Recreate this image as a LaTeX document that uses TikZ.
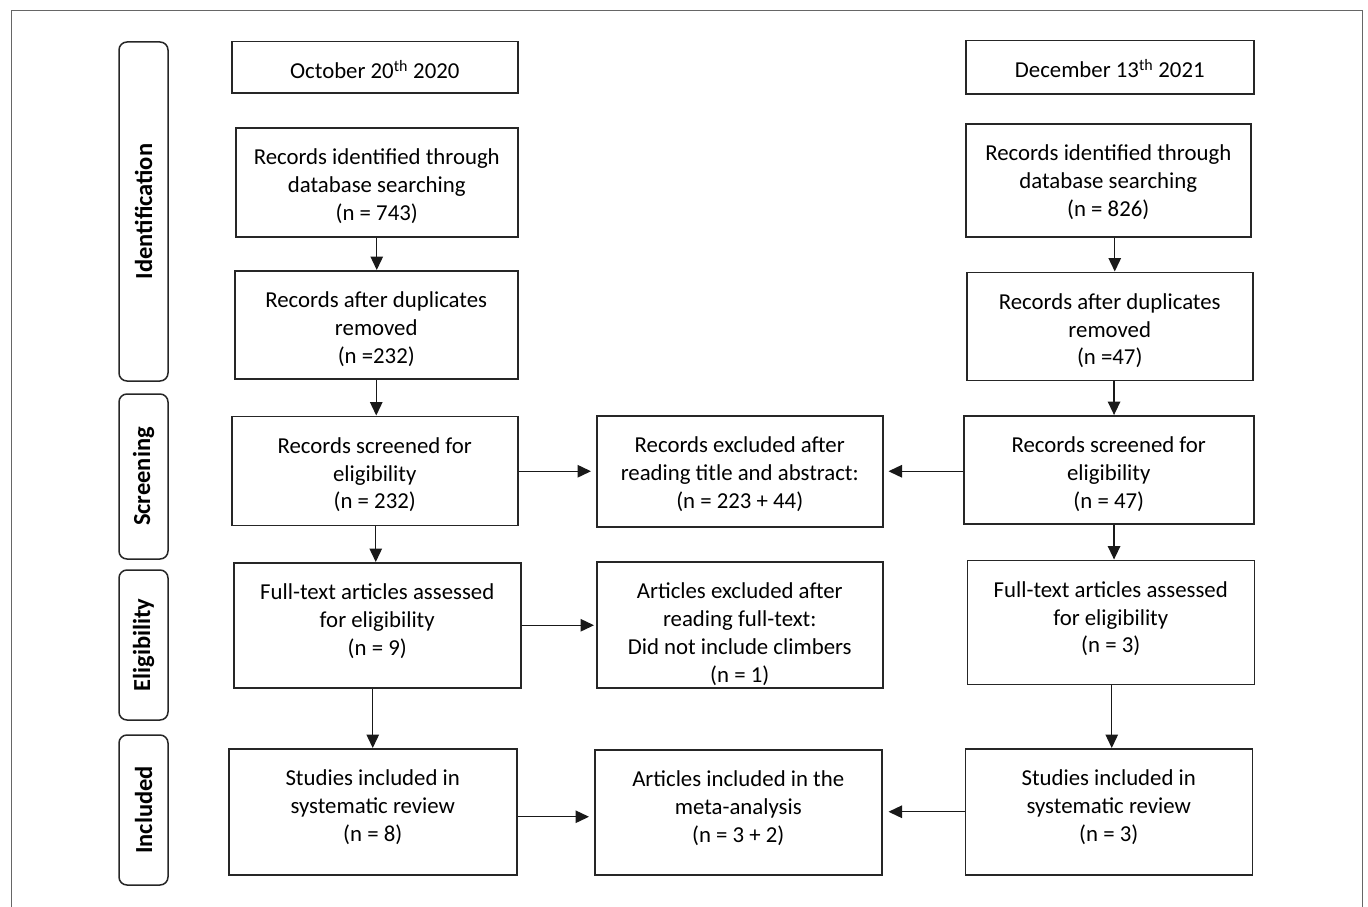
\documentclass[tikz,border=0pt]{standalone}
\usepackage{fontspec}
\setmainfont{Carlito}
\usetikzlibrary{arrows.meta}
\newcommand\bxt[3]{\parbox[c][#2][t]{#1}{\centering\rule{0pt}{37pt}#3}}
\tikzset{
  box/.style={draw=black!85, line width=1.5pt, inner sep=0pt, anchor=north west,
    font=\fontsize{22.8}{27.8}\selectfont},
  side/.style={draw=black!85, line width=1.5pt, rounded corners=8pt, inner sep=0pt,
    rotate=90, font=\fontsize{24.5}{28}\selectfont\bfseries, minimum height=49pt},
  arr/.style={draw=black!90, line width=1.4pt, -{Triangle[length=13.5pt,width=12.5pt]}},
}
\begin{document}
\begin{tikzpicture}[x=1pt,y=-1pt]
\useasboundingbox (0,0) rectangle (1368,907);
\draw[black!60, line width=1pt] (11,907) -- (11,11) -- (1362.5,11) -- (1362.5,907);

% side labels
\node[side, minimum width=339pt] (idn) at (143.5,211.5) {Identification};
\node[side, minimum width=165pt] (scr) at (143.5,476.5) {Screening};
\node[side, minimum width=150pt] (elg) at (143.5,645) {Eligibility};
\node[side, minimum width=150pt] (inc) at (143.5,810) {Included};

% left column
\node[box] (dl) at (231,41) {\bxt{286pt}{51pt}{October 20\textsuperscript{th} 2020}};
\node[box] (rl1) at (235,127) {\bxt{282pt}{109pt}{Records identified through\\database searching\\(n = 743)}};
\node[box] (dl1) at (234,270) {\bxt{283pt}{108pt}{Records after duplicates\\removed\\(n =232)}};
\node[box] (sl1) at (231,415.5) {\bxt{286pt}{109pt}{Records screened for\\eligibility\\(n = 232)}};
\node[box] (fl1) at (233,562) {\bxt{287pt}{125pt}{Full-text articles assessed\\for eligibility\\(n = 9)}};
\node[box] (stl) at (228,748) {\bxt{288pt}{126pt}{Studies included in\\systematic review\\(n = 8)}};

% middle column
\node[box] (ex1) at (596,415) {\bxt{286pt}{111pt}{Records excluded after\\reading title and abstract:\\(n = 223 + 44)}};
\node[box] (ax1) at (596,561) {\bxt{286pt}{126pt}{Articles excluded after\\reading full-text:\\Did not include climbers\\(n = 1)}};
\node[box] (mt) at (594,749) {\bxt{287pt}{125pt}{Articles included in the\\meta-analysis\\(n = 3 + 2)}};

% right column
\node[box] (dr) at (965,40) {\bxt{288pt}{53pt}{December 13\textsuperscript{th} 2021}};
\node[box] (rr1) at (965,123) {\bxt{285pt}{113pt}{Records identified through\\database searching\\(n = 826)}};
\node[box] (dr1) at (966,271.5) {\bxt{286pt}{108pt}{Records after duplicates\\removed\\(n =47)}};
\node[box] (sr1) at (963,415) {\bxt{290pt}{108pt}{Records screened for\\eligibility\\(n = 47)}};
\node[box] (fr1) at (966.5,559.5) {\bxt{287pt}{124pt}{Full-text articles assessed\\for eligibility\\(n = 3)}};
\node[box] (str) at (964.5,748) {\bxt{287pt}{126pt}{Studies included in\\systematic review\\(n = 3)}};

% vertical arrows left
\draw[arr] (rl1.south) -- (rl1.south |- dl1.north);
\draw[arr] (dl1.south) -- (dl1.south |- sl1.north);
\draw[arr] ([xshift=1pt]sl1.south) -- ([xshift=1pt]sl1.south |- fl1.north);
\draw[arr] (stl.north |- fl1.south) -- (stl.north);

% vertical arrows right
\draw[arr] ([xshift=6.5pt]rr1.south) -- ([xshift=6.5pt]rr1.south |- dr1.north);
\draw[arr] ([xshift=4.3pt]dr1.south) -- ([xshift=4.3pt]dr1.south |- sr1.north);
\draw[arr] ([xshift=5.3pt]sr1.south) -- ([xshift=5.3pt]sr1.south |- fr1.north);
\draw[arr] ([xshift=1pt]fr1.south) -- ([xshift=1pt]fr1.south |- str.north);

% horizontal arrows
\draw[arr, shorten >=5pt] (sl1.east |- ex1.west) -- (ex1.west);
\draw[arr, shorten >=5pt] (sr1.west |- ex1.east) -- (ex1.east);
\draw[arr, shorten >=2pt] (fl1.east) -- (fl1.east -| ax1.west);
\draw[arr, shorten >=5pt] ([yshift=-5pt]stl.east) -- ([yshift=-5pt]stl.east -| mt.west);
\draw[arr, shorten >=6pt] (str.west) -- (str.west -| mt.east);
\end{tikzpicture}
\end{document}
